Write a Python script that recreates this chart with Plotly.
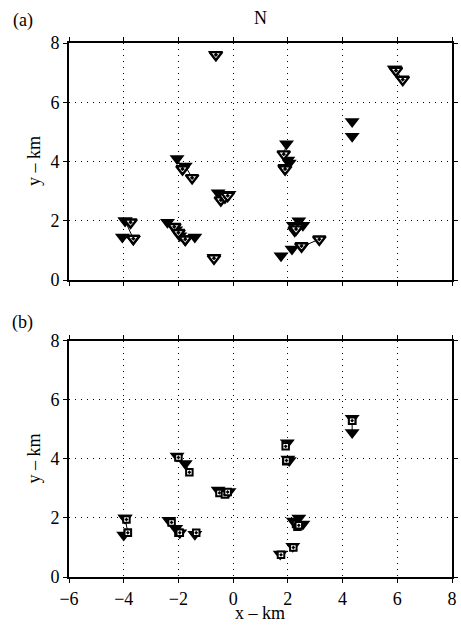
import plotly.graph_objects as go

# ---------------- data ----------------
# Panel (a): filled triangles (initial) -> open triangles (relocated)
a_fill_x = [-3.95, -3.95, -4.05, -2.40, -2.10, -1.95, -1.40, -2.05, -1.75, -0.55, -0.35, -0.15,
            -0.70, -0.65, 5.90, 5.90, 4.35, 4.35, 1.95, 2.00, 2.05, 2.20, 2.40, 2.55, 1.75, 2.15, 2.50]
a_fill_y = [2.00, 2.00, 1.45, 1.95, 1.70, 1.50, 1.45, 4.10, 3.85, 2.95, 2.90, 2.90,
            0.77, 7.62, 7.12, 7.12, 5.35, 4.85, 4.60, 4.05, 3.95, 1.85, 2.00, 1.85, 0.82, 1.05, 1.12]
a_open_x = [-3.65, -3.75, -3.65, -2.15, -2.00, -1.75, -1.75, -1.85, -1.50, -0.45, -0.30, -0.20,
            -0.70, -0.63, 6.20, 5.95, None, None, 1.85, 1.88, 1.90, 2.25, 2.35, 2.30, None, 2.50, 3.15]
a_open_y = [1.40, 1.95, 1.40, 1.80, 1.60, 1.38, 1.38, 3.75, 3.45, 2.70, 2.80, 2.85,
            0.74, 7.60, 6.77, 7.07, None, None, 4.25, 3.78, 3.75, 1.68, 1.80, 1.72, None, 1.15, 1.38]

# Panel (b): filled triangles (initial) -> open squares (relocated)
b_fill_x = [-3.95, -3.95, -4.00, -2.35, -2.10, -1.95, -1.40, -2.05, -1.75, -0.55, -0.35, -0.15,
            4.35, 4.35, 1.98, 2.00, 2.05, 2.20, 2.40, 2.55, 1.72, 2.18]
b_fill_y = [2.00, 2.00, 1.42, 1.92, 1.65, 1.50, 1.45, 4.10, 3.85, 2.95, 2.90, 2.90,
            5.38, 4.90, 4.55, 4.00, 3.95, 1.90, 2.00, 1.80, 0.78, 1.04]
b_sq_x = [-3.90, -3.85, -3.85, -2.25, -2.00, -1.95, -1.35, -2.00, -1.60, -0.50, -0.30, -0.20,
          4.35, 4.35, 1.92, 1.94, 1.95, 2.30, 2.35, 2.40, 1.75, 2.20]
b_sq_y = [1.95, 1.50, 1.50, 1.85, 1.50, 1.50, 1.50, 4.05, 3.55, 2.85, 2.80, 2.88,
          5.30, 5.30, 4.43, 3.92, 3.95, 1.80, 1.70, 1.75, 0.75, 1.00]

x_ticks = [-6, -4, -2, 0, 2, 4, 6, 8]
y_ticks = [0, 2, 4, 6, 8]

FONT = "Liberation Serif"


def link_xy(x0, y0, x1, y1):
    xs, ys = [], []
    for a, b, c, d in zip(x0, y0, x1, y1):
        if c is None:
            continue
        xs += [a, c, None]
        ys += [b, d, None]
    return xs, ys


fig = go.Figure()

for (fx, fy, ox, oy, sym, osize, olw, xa, ya) in [
    (a_fill_x, a_fill_y, a_open_x, a_open_y, "triangle-down-dot", 11, 2.4, "x", "y"),
    (b_fill_x, b_fill_y, b_sq_x, b_sq_y, "square-dot", 6.5, 2.0, "x2", "y2"),
]:
    lx, ly = link_xy(fx, fy, ox, oy)
    fig.add_trace(go.Scatter(x=lx, y=ly, mode="lines", line=dict(color="black", width=1),
                             xaxis=xa, yaxis=ya, showlegend=False, hoverinfo="skip"))
    fig.add_trace(go.Scatter(x=fx, y=fy, mode="markers",
                             marker=dict(symbol="triangle-down", size=13, color="black",
                                         line=dict(width=0)),
                             xaxis=xa, yaxis=ya, showlegend=False))
    fig.add_trace(go.Scatter(x=ox, y=oy, mode="markers",
                             marker=dict(symbol=sym, size=osize, color="white",
                                         line=dict(color="black", width=olw)),
                             xaxis=xa, yaxis=ya, showlegend=False))

axis_common = dict(
    range=[-6, 8], tickvals=x_ticks, showline=True, linecolor="black", linewidth=2,
    mirror="ticks", ticks="outside", ticklen=4, tickwidth=1, tickcolor="black",
    showgrid=True, gridcolor="black", gridwidth=1, griddash="1px,5px",
    zeroline=False, tickfont=dict(family=FONT, size=18, color="black"),
)
yaxis_common = dict(
    range=[0, 8], tickvals=y_ticks, showline=True, linecolor="black", linewidth=2,
    mirror="ticks", ticks="outside", ticklen=4, tickwidth=1, tickcolor="black",
    showgrid=True, gridcolor="black", gridwidth=1, griddash="1px,5px",
    zeroline=False, tickfont=dict(family=FONT, size=18, color="black"),
)

fig.update_layout(
    width=461, height=626,
    margin=dict(l=69, r=3, t=43, b=49),
    paper_bgcolor="white", plot_bgcolor="white",
    font=dict(family=FONT, size=18, color="black"),
    xaxis=dict(axis_common, anchor="y", domain=[0, 1], showticklabels=False),
    yaxis=dict(yaxis_common, anchor="x", domain=[0.556, 1]),
    xaxis2=dict(axis_common, anchor="y2", domain=[0, 1]),
    yaxis2=dict(yaxis_common, anchor="x2", domain=[0, 0.442]),
    annotations=[
        dict(text="N", x=0.499, y=1.047, xref="paper", yref="paper", showarrow=False,
             xanchor="center", yanchor="middle", font=dict(size=18)),
        dict(text="(a)", x=-0.121, y=1.043, xref="paper", yref="paper", showarrow=False,
             xanchor="center", yanchor="middle", font=dict(size=18)),
        dict(text="(b)", x=-0.121, y=0.476, xref="paper", yref="paper", showarrow=False,
             xanchor="center", yanchor="middle", font=dict(size=18)),
        dict(text="y – km", x=-0.0925, y=0.778, xref="paper", yref="paper", showarrow=False,
             textangle=-90, xanchor="center", yanchor="middle", font=dict(size=18)),
        dict(text="y – km", x=-0.0925, y=0.221, xref="paper", yref="paper", showarrow=False,
             textangle=-90, xanchor="center", yanchor="middle", font=dict(size=18)),
        dict(text="x – km", x=0.499, y=-0.067, xref="paper", yref="paper", showarrow=False,
             xanchor="center", yanchor="middle", font=dict(size=18)),
    ],
)

fig.write_html("out.html")
